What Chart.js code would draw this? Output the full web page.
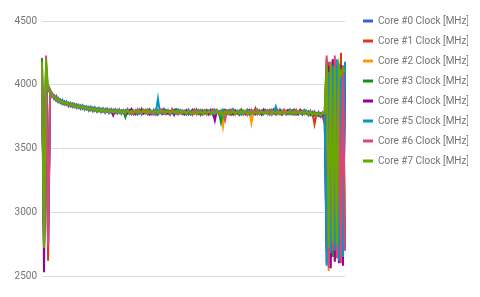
<!DOCTYPE html>
<html>
<head>
<meta charset="utf-8">
<script src="https://cdn.jsdelivr.net/npm/chart.js@4"></script>
<style>
  body { margin: 0; background: #fff; }
</style>
</head>
<body>
<canvas id="clockChart" width="480" height="297"></canvas>
<script>
const coreNames = ['Core #0 Clock [MHz]', 'Core #1 Clock [MHz]', 'Core #2 Clock [MHz]', 'Core #3 Clock [MHz]',
  'Core #4 Clock [MHz]', 'Core #5 Clock [MHz]', 'Core #6 Clock [MHz]', 'Core #7 Clock [MHz]'];
const coreColors = ['#3366cc', '#dc3912', '#ff9900', '#109618', '#990099', '#0099c6', '#dd4477', '#66aa00'];
const yTicks = [2500, 3000, 3500, 4000, 4500];

const core0 = [
  4100, 2750, 4150, 2760, 3955, 3905, 3915, 3875, 3895, 3858,
  3880, 3845, 3868, 3832, 3858, 3826, 3850, 3818, 3842, 3810,
  3838, 3805, 3830, 3798, 3826, 3792, 3822, 3788, 3818, 3786,
  3814, 3780, 3812, 3778, 3808, 3776, 3806, 3774, 3805, 3772,
  3800, 3776, 3795, 3782, 3810, 3770, 3790, 3775, 3804, 3768,
  3798, 3785, 3772, 3806, 3779, 3793, 3766, 3801, 3783, 3775,
  3809, 3771, 3790, 3784, 3798, 3765, 3803, 3780, 3774, 3796,
  3778, 3800, 3769, 3792, 3785, 3773, 3806, 3776, 3790, 3768,
  3799, 3781, 3772, 3803, 3766, 3794, 3779, 3788, 3770, 3801,
  3775, 3796, 3783, 3768, 3805, 3777, 3790, 3764, 3798, 3782,
  3771, 3804, 3779, 3793, 3767, 3800, 3785, 3774, 3797, 3769,
  3802, 3776, 3788, 3765, 3799, 3781, 3772, 3806, 3778, 3791,
  3768, 3797, 3784, 3776, 3803, 3770, 3792, 3780, 3766, 3795,
  3798, 3762, 3795, 3758, 3790, 3755, 3786, 3752, 3784, 3770,
  2600, 4100, 2650, 4150, 2700, 4120, 2680, 4180, 2650, 4160];
const core1 = [
  4100, 2800, 4180, 2620, 3960, 3930, 3888, 3912, 3865, 3882,
  3850, 3870, 3842, 3860, 3832, 3852, 3825, 3845, 3818, 3838,
  3812, 3830, 3805, 3826, 3800, 3820, 3796, 3815, 3792, 3812,
  3788, 3810, 3786, 3806, 3782, 3805, 3780, 3803, 3778, 3800,
  3795, 3772, 3808, 3780, 3790, 3769, 3801, 3786, 3775, 3812,
  3781, 3794, 3770, 3803, 3777, 3789, 3806, 3768, 3797, 3784,
  3773, 3800, 3787, 3766, 3808, 3779, 3793, 3771, 3802, 3785,
  3790, 3767, 3798, 3781, 3770, 3804, 3776, 3795, 3763, 3800,
  3783, 3771, 3796, 3778, 3802, 3765, 3789, 3775, 3799, 3770,
  3794, 3780, 3767, 3801, 3774, 3792, 3786, 3769, 3805, 3777,
  3788, 3762, 3798, 3781, 3773, 3815, 3776, 3790, 3768, 3797,
  3779, 3793, 3770, 3802, 3785, 3766, 3799, 3774, 3791, 3780,
  3796, 3770, 3785, 3800, 3767, 3792, 3778, 3803, 3772, 3788,
  3776, 3790, 3762, 3784, 3690, 3772, 3760, 3776, 3752, 3700,
  3760, 4180, 2660, 4200, 2610, 4150, 2640, 4250, 2700, 4150];
const core2 = [
  4080, 2760, 4120, 2780, 3945, 3910, 3912, 3890, 3870, 3880,
  3858, 3866, 3846, 3855, 3838, 3848, 3830, 3840, 3822, 3834,
  3815, 3828, 3808, 3822, 3803, 3817, 3798, 3812, 3795, 3808,
  3790, 3806, 3788, 3801, 3785, 3800, 3782, 3798, 3780, 3797,
  3778, 3802, 3785, 3771, 3799, 3788, 3767, 3805, 3780, 3792,
  3806, 3774, 3791, 3783, 3768, 3800, 3786, 3775, 3810, 3779,
  3787, 3769, 3803, 3776, 3795, 3784, 3770, 3799, 3781, 3766,
  3796, 3778, 3805, 3770, 3787, 3792, 3765, 3801, 3776, 3789,
  3772, 3799, 3783, 3766, 3794, 3780, 3803, 3768, 3790, 3672,
  3781, 3797, 3770, 3788, 3802, 3765, 3793, 3779, 3772, 3800,
  3784, 3769, 3796, 3700, 3790, 3775, 3804, 3781, 3767, 3798,
  3776, 3791, 3806, 3772, 3785, 3796, 3768, 3800, 3783, 3774,
  3799, 3781, 3769, 3793, 3786, 3804, 3770, 3789, 3797, 3775,
  3788, 3766, 3784, 3770, 3778, 3755, 3774, 3760, 3770, 3765,
  4120, 2540, 4150, 2700, 4180, 2720, 4100, 2680, 4130, 2700];
const core3 = [
  4210, 2730, 4150, 3950, 3945, 3925, 3895, 3895, 3872, 3876,
  3858, 3862, 3848, 3852, 3840, 3846, 3831, 3838, 3824, 3830,
  3818, 3823, 3811, 3818, 3806, 3812, 3801, 3808, 3798, 3805,
  3794, 3800, 3791, 3797, 3788, 3795, 3786, 3793, 3784, 3792,
  3797, 3745, 3791, 3802, 3776, 3788, 3795, 3771, 3800, 3785,
  3779, 3793, 3806, 3782, 3774, 3798, 3787, 3769, 3794, 3801,
  3784, 3772, 3799, 3790, 3777, 3804, 3781, 3771, 3796, 3786,
  3770, 3795, 3783, 3767, 3801, 3789, 3776, 3798, 3772, 3791,
  3787, 3803, 3774, 3781, 3796, 3769, 3792, 3785, 3705, 3799,
  3778, 3790, 3801, 3766, 3786, 3797, 3773, 3789, 3804, 3770,
  3793, 3781, 3768, 3799, 3785, 3772, 3796, 3787, 3765, 3802,
  3789, 3770, 3797, 3783, 3774, 3800, 3779, 3792, 3768, 3795,
  3781, 3798, 3773, 3787, 3802, 3769, 3791, 3784, 3776, 3799,
  3772, 3790, 3766, 3782, 3760, 3778, 3756, 3774, 3758, 3770,
  4200, 2700, 4150, 2650, 4180, 2750, 4120, 2700, 4150, 2720];
const core4 = [
  4150, 2530, 4100, 2900, 3940, 3915, 3905, 3882, 3890, 3864,
  3870, 3852, 3860, 3842, 3851, 3834, 3842, 3826, 3835, 3818,
  3829, 3812, 3822, 3806, 3817, 3801, 3812, 3797, 3808, 3793,
  3804, 3789, 3801, 3786, 3799, 3760, 3797, 3783, 3796, 3781,
  3786, 3799, 3775, 3790, 3808, 3780, 3770, 3796, 3784, 3801,
  3773, 3788, 3797, 3766, 3792, 3781, 3803, 3776, 3789, 3770,
  3800, 3783, 3771, 3794, 3787, 3765, 3805, 3779, 3791, 3782,
  3768, 3797, 3785, 3774, 3802, 3779, 3789, 3770, 3799, 3786,
  3777, 3794, 3768, 3800, 3783, 3720, 3796, 3775, 3788, 3781,
  3803, 3772, 3790, 3785, 3767, 3798, 3779, 3794, 3776, 3786,
  3770, 3793, 3802, 3778, 3786, 3769, 3799, 3783, 3774, 3805,
  3785, 3771, 3794, 3780, 3806, 3773, 3788, 3797, 3766, 3790,
  3778, 3802, 3786, 3770, 3795, 3783, 3768, 3800, 3791, 3774,
  3786, 3768, 3780, 3762, 3775, 3756, 3772, 3750, 3766, 3760,
  2700, 4150, 2560, 4200, 2620, 4100, 2600, 4150, 2580, 4120];
const core5 = [
  4130, 2740, 4160, 2750, 3950, 3935, 3892, 3905, 3868, 3885,
  3852, 3870, 3845, 3858, 3836, 3852, 3828, 3843, 3821, 3836,
  3814, 3829, 3808, 3825, 3802, 3820, 3798, 3814, 3795, 3810,
  3791, 3807, 3789, 3803, 3786, 3800, 3784, 3799, 3782, 3797,
  3781, 3795, 3808, 3772, 3790, 3784, 3799, 3769, 3793, 3787,
  3802, 3776, 3789, 3796, 3770, 3805, 3783, 3890, 3779, 3792,
  3774, 3801, 3788, 3767, 3797, 3782, 3775, 3806, 3790, 3771,
  3795, 3780, 3803, 3769, 3788, 3799, 3774, 3786, 3802, 3767,
  3791, 3776, 3798, 3785, 3770, 3804, 3779, 3793, 3768, 3800,
  3784, 3796, 3771, 3789, 3807, 3775, 3786, 3798, 3767, 3792,
  3779, 3805, 3787, 3770, 3796, 3783, 3801, 3769, 3790, 3786,
  3797, 3774, 3789, 3803, 3777, 3830, 3784, 3769, 3798, 3780,
  3791, 3772, 3806, 3785, 3776, 3799, 3781, 3794, 3768, 3803,
  3790, 3770, 3786, 3764, 3782, 3760, 3778, 3756, 3776, 3780,
  2580, 4100, 2680, 4150, 2700, 4200, 2620, 4100, 2650, 4180];
const core6 = [
  4150, 2720, 4230, 2730, 3950, 3905, 3915, 3876, 3892, 3860,
  3872, 3848, 3862, 3840, 3853, 3832, 3845, 3825, 3837, 3818,
  3830, 3812, 3824, 3806, 3818, 3801, 3813, 3796, 3809, 3793,
  3805, 3790, 3802, 3786, 3800, 3784, 3798, 3782, 3797, 3781,
  3792, 3777, 3801, 3786, 3769, 3798, 3783, 3806, 3774, 3790,
  3785, 3803, 3771, 3794, 3788, 3766, 3800, 3779, 3792, 3808,
  3776, 3789, 3798, 3770, 3805, 3784, 3792, 3768, 3787, 3799,
  3781, 3770, 3796, 3787, 3764, 3801, 3778, 3793, 3785, 3773,
  3799, 3767, 3790, 3782, 3805, 3774, 3795, 3769, 3788, 3780,
  3723, 3793, 3776, 3802, 3784, 3770, 3797, 3781, 3789, 3766,
  3795, 3782, 3771, 3804, 3778, 3791, 3768, 3800, 3783, 3776,
  3788, 3801, 3767, 3793, 3782, 3775, 3798, 3786, 3772, 3804,
  3774, 3790, 3797, 3769, 3786, 3803, 3777, 3792, 3781, 3768,
  3794, 3772, 3788, 3765, 3783, 3760, 3779, 3758, 3772, 3775,
  4230, 2560, 4180, 2700, 4230, 2640, 4160, 2600, 4150, 2700];
const core7 = [
  4180, 2720, 4200, 3960, 3950, 3912, 3908, 3880, 3886, 3862,
  3872, 3850, 3861, 3840, 3852, 3832, 3844, 3824, 3836, 3817,
  3830, 3811, 3824, 3805, 3818, 3800, 3814, 3796, 3810, 3792,
  3806, 3788, 3803, 3785, 3800, 3783, 3798, 3781, 3797, 3780,
  3797, 3779, 3796, 3780, 3795, 3778, 3797, 3781, 3794, 3779,
  3796, 3780, 3798, 3778, 3795, 3781, 3796, 3779, 3797, 3780,
  3795, 3779, 3797, 3781, 3794, 3778, 3796, 3780, 3798, 3779,
  3792, 3775, 3793, 3776, 3791, 3774, 3792, 3777, 3790, 3775,
  3793, 3776, 3792, 3774, 3791, 3777, 3793, 3775, 3790, 3745,
  3792, 3776, 3791, 3775, 3793, 3774, 3790, 3777, 3792, 3775,
  3791, 3776, 3793, 3774, 3790, 3777, 3792, 3775, 3791, 3776,
  3793, 3774, 3790, 3777, 3792, 3776, 3791, 3775, 3793, 3774,
  3790, 3777, 3792, 3775, 3791, 3776, 3793, 3774, 3790, 3776,
  3790, 3772, 3786, 3767, 3780, 3762, 3776, 3760, 3775, 3780,
  4150, 2720, 4170, 2760, 4140, 2740, 4150, 4080, 4130, 4100];

const coreSeries = [core0, core1, core2, core3, core4, core5, core6, core7];
const samples = core0.map((v, i) => i);

// nudge the legend a bit right of the plot, like the original
const legendGap = {
  id: 'legendGap',
  afterLayout(chart) {
    chart.legend.left += 8;
    chart.legend.right += 8;
  }
};

const ctx = document.getElementById('clockChart').getContext('2d');
new Chart(ctx, {
  type: 'line',
  data: {
    labels: samples,
    datasets: coreSeries.map((vals, i) => ({
      label: coreNames[i],
      data: vals,
      borderColor: coreColors[i],
      backgroundColor: coreColors[i],
      borderWidth: 2,
      pointRadius: 0,
      tension: 0,
      order: 7 - i
    }))
  },
  options: {
    responsive: false,
    animation: false,
    layout: {
      padding: { top: 6, right: 20, bottom: 21, left: 0 }
    },
    plugins: {
      legend: {
        position: 'right',
        align: 'start',
        labels: {
          boxWidth: 10,
          boxHeight: 3,
          padding: 10,
          color: '#757575',
          font: { family: 'Roboto', size: 10 },
          generateLabels: (chart) => Chart.defaults.plugins.legend.labels.generateLabels(chart)
            .map(item => ({ ...item, lineWidth: 0 })),
          sort: (a, b) => a.datasetIndex - b.datasetIndex
        }
      },
      tooltip: { enabled: false }
    },
    scales: {
      x: {
        position: 'top',
        ticks: { display: false },
        grid: { display: false },
        border: { display: false },
        afterFit: (s) => { s.height = 15; }
      },
      y: {
        min: yTicks[0],
        max: yTicks[yTicks.length - 1],
        afterBuildTicks: (s) => { s.ticks = yTicks.map(v => ({ value: v })); },
        ticks: {
          padding: 5,
          color: '#757575',
          font: { family: 'Roboto', size: 10 },
          callback: (v) => String(v)
        },
        grid: { color: '#dcdcdc', drawTicks: false },
        border: { display: false },
        afterFit: (s) => { s.width = 42; }
      }
    }
  },
  plugins: [legendGap]
});
</script>
</body>
</html>
